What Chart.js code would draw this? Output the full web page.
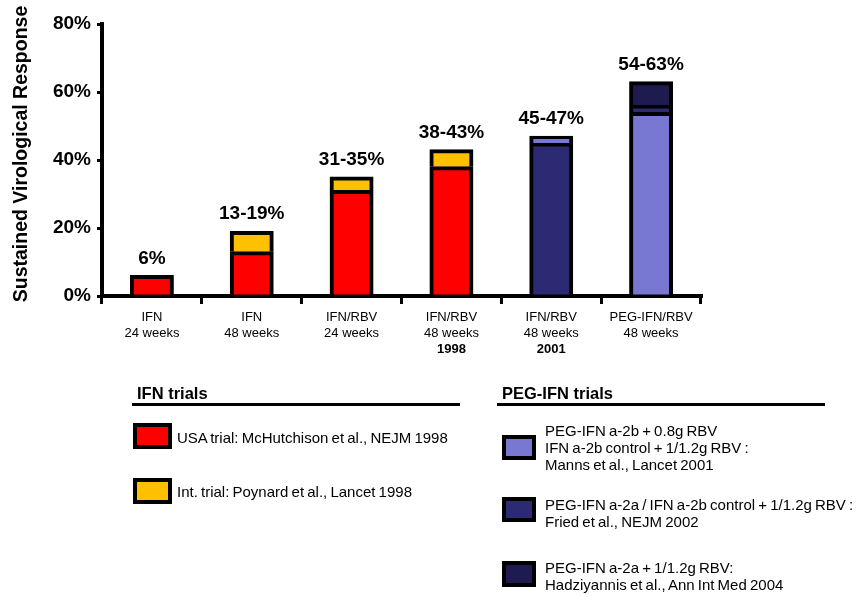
<!DOCTYPE html>
<html><head><meta charset="utf-8">
<script src="https://cdn.jsdelivr.net/npm/chart.js@4"></script>
<style>
body{margin:0;background:#fff;}
#wrap{position:relative;width:859px;height:597px;font-family:"Liberation Sans",Arial,sans-serif;color:#000;overflow:hidden;}
canvas{position:absolute;left:0;top:0;}
.t{position:absolute;white-space:nowrap;font-size:15px;line-height:17px;word-spacing:-1px;}
.h{position:absolute;white-space:nowrap;font-weight:bold;font-size:16.5px;line-height:18px;}
.u{position:absolute;height:3px;background:#000;}
.sw{position:absolute;box-sizing:border-box;border:4px solid #000;}
</style></head>
<body><div id="wrap"><canvas id="c" width="859" height="597"></canvas>
<div class="h" style="left:137px;top:384px">IFN trials</div>
<div class="u" style="left:132px;top:403px;width:328px"></div>
<div class="sw" style="left:133px;top:423px;width:39px;height:26px;background:#FF0000"></div>
<div class="t" style="left:177px;top:429px">USA trial: McHutchison et al., NEJM 1998</div>
<div class="sw" style="left:133px;top:478px;width:39px;height:26px;background:#FFC000"></div>
<div class="t" style="left:177px;top:483px">Int. trial: Poynard et al., Lancet 1998</div>

<div class="h" style="left:502px;top:384px">PEG-IFN trials</div>
<div class="u" style="left:497px;top:403px;width:328px"></div>
<div class="sw" style="left:502px;top:435px;width:34px;height:25px;background:#7878D2"></div>
<div class="t" style="left:545px;top:422px">PEG-IFN a-2b + 0.8g RBV<br>IFN a-2b control + 1/1.2g RBV :<br>Manns et al., Lancet 2001</div>
<div class="sw" style="left:502px;top:497px;width:34px;height:25px;background:#2B2A72"></div>
<div class="t" style="left:545px;top:496px">PEG-IFN a-2a / IFN a-2b control + 1/1.2g RBV :<br>Fried et al., NEJM 2002</div>
<div class="sw" style="left:502px;top:561px;width:34px;height:26px;background:#1D1B4F"></div>
<div class="t" style="left:545px;top:559px">PEG-IFN a-2a + 1/1.2g RBV:<br>Hadziyannis et al., Ann Int Med 2004</div>
</div>
<script>
const categories = [["IFN","24 weeks"],["IFN","48 weeks"],["IFN/RBV","24 weeks"],["IFN/RBV","48 weeks"],["IFN/RBV","48 weeks"],["PEG-IFN/RBV","48 weeks"]];
const years = ["","","","1998","2001",""];
const barLabels = ["6%","13-19%","31-35%","38-43%","45-47%","54-63%"];
const usaTrial   = [6, 13, 31, 38, null, null];
const intTrial   = [null, 19, 35, 43, null, null];
const mannsTrial = [null, null, null, null, 47, 54];
const friedTrial = [null, null, null, null, 45, 56];
const hadzTrial  = [null, null, null, null, null, 63];
const yTicks = [0, 20, 40, 60, 80];
const yTitle = 'Sustained Virological Response';

const FONT = '"Liberation Sans", Arial, sans-serif';
const series = [
  {label:'USA trial', values:usaTrial, color:'#FF0000'},
  {label:'Int. trial', values:intTrial, color:'#FFC000'},
  {label:'Manns', values:mannsTrial, color:'#7878D2'},
  {label:'Fried', values:friedTrial, color:'#2B2A72'},
  {label:'Hadziyannis', values:hadzTrial, color:'#1D1B4F'}
];
// each bar segment spans from the next-lower reported value in that category to its own value
const ranges = series.map(() => categories.map(() => null));
categories.forEach((c, i) => {
  const items = series.map((s, k) => ({v: s.values[i], k})).filter(o => o.v != null).sort((a, b) => a.v - b.v);
  let prev = 0;
  items.forEach(o => { ranges[o.k][i] = [prev, o.v]; prev = o.v; });
});

const labelPlugin = {
  id: 'barTexts',
  afterDraw(chart) {
    const {ctx, scales: {x, y}} = chart;
    ctx.save();
    ctx.fillStyle = '#000';
    ctx.textAlign = 'center';
    ctx.font = 'bold 19px ' + FONT;
    ctx.textBaseline = 'alphabetic';
    categories.forEach((c, i) => {
      const top = Math.max(...series.map(s => s.values[i] ?? 0));
      ctx.fillText(barLabels[i], x.getPixelForValue(i), y.getPixelForValue(top) - 12);
    });
    ctx.font = 'bold 13px ' + FONT;
    ctx.textBaseline = 'middle';
    years.forEach((yr, i) => { if (yr) ctx.fillText(yr, x.getPixelForValue(i), x.top + 53); });
    // rotated y-axis title
    ctx.save();
    ctx.translate(22, (y.top + y.bottom) / 2 - 6);
    ctx.rotate(-Math.PI / 2);
    ctx.font = 'bold 19.5px ' + FONT;
    ctx.textBaseline = 'middle';
    ctx.fillText(yTitle, 0, 0);
    ctx.restore();
    ctx.restore();
  }
};

new Chart(document.getElementById('c'), {
  type: 'bar',
  data: {
    labels: categories,
    datasets: series.map((s, k) => ({
      label: s.label,
      data: ranges[k],
      backgroundColor: s.color,
      borderColor: '#000',
      borderWidth: 4,
      borderSkipped: 'start',
      inflateAmount: 0.5,
      grouped: false,
      barPercentage: 0.43,
      categoryPercentage: 1
    }))
  },
  options: {
    responsive: false,
    animation: false,
    layout: {autoPadding: false, padding: {left: 0, top: 24, right: 158, bottom: 0}},
    plugins: {legend: {display: false}, tooltip: {enabled: false}},
    scales: {
      x: {
        z: 1,
        offset: true,
        afterFit: s => { s.height = 301; },
        grid: {display: true, drawOnChartArea: false, offset: true, color: '#000', lineWidth: 3, tickLength: 8},
        border: {color: '#000', width: 4},
        ticks: {color: '#000', font: {family: FONT, size: 13, lineHeight: 1.23}, padding: 5, maxRotation: 0, autoSkip: false}
      },
      y: {
        min: 0, max: 80,
        afterFit: s => { s.width = 102; },
        afterBuildTicks: s => { s.ticks = yTicks.map(v => ({value: v})); },
        grid: {drawOnChartArea: false, color: '#000', lineWidth: 3, tickLength: 5},
        border: {color: '#000', width: 4},
        ticks: {color: '#000', font: {family: FONT, size: 19, weight: 'bold'}, padding: 6, callback: v => v + '%'}
      }
    }
  },
  plugins: [labelPlugin]
});
</script>
</body></html>
